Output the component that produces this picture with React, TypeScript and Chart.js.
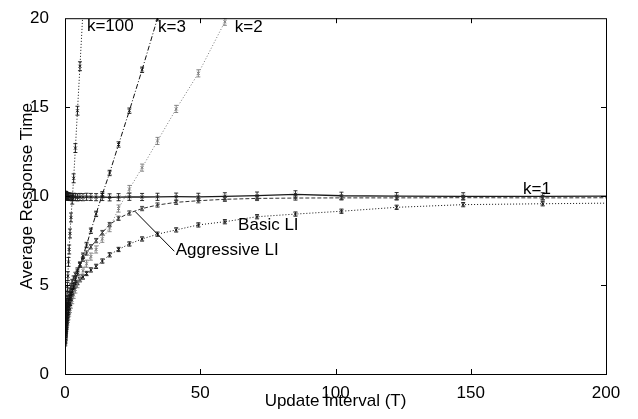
import React, { useEffect, useRef } from "react";
import { Chart, registerables } from "chart.js";

Chart.register(...registerables);

// Update interval T (x values of the measured points)
const intervals = [
  0.05, 0.1, 0.15, 0.2, 0.25, 0.3, 0.36, 0.43, 0.52, 0.62, 0.74, 0.89, 1.07, 1.29,
  1.54, 1.85, 2.22, 2.67, 3.2, 3.84, 4.61, 5.53, 6.64, 7.97, 9.56, 11.5, 13.8,
  16.5, 19.8, 23.8, 28.5, 34.2, 41.1, 49.3, 59.1, 71.0, 85.2, 102.2, 122.6,
  147.2, 176.6, 211.9,
];

// Average response time per series
const k1Times = [
  10.05, 10.08, 10.05, 10.02, 10.06, 10.03, 10.0, 10.04, 10.02, 9.98, 10.01, 9.97,
  9.99, 9.96, 9.98, 9.95, 9.97, 9.94, 9.96, 9.95, 9.93, 9.95, 9.94, 9.96, 9.95,
  9.94, 9.95, 9.93, 9.94, 9.96, 9.95, 9.96, 9.97, 9.96, 9.99, 10.03, 10.1, 10.02,
  10.0, 9.99, 9.99, 10.0,
];
const aggressiveTimes = [
  1.8, 2.0, 2.2, 2.35, 2.5, 2.65, 2.8, 3.0, 3.2, 3.4, 3.6, 3.8, 4.0, 4.2, 4.45,
  4.7, 4.95, 5.2, 5.4, 5.6, 5.85, 6.15, 6.45, 6.8, 7.15, 7.5, 7.95, 8.4, 8.75,
  9.05, 9.3, 9.5, 9.65, 9.74, 9.82, 9.87, 9.89, 9.9, 9.9, 9.91, 9.9, 9.91,
];
const basicTimes = [
  1.7, 1.85, 2.0, 2.15, 2.3, 2.4, 2.55, 2.7, 2.9, 3.1, 3.3, 3.5, 3.7, 3.9, 4.1,
  4.3, 4.5, 4.7, 4.85, 5.0, 5.15, 5.3, 5.45, 5.65, 5.85, 6.05, 6.35, 6.7, 7.0,
  7.31, 7.59, 7.86, 8.1, 8.38, 8.56, 8.84, 8.99, 9.15, 9.37, 9.52, 9.57, 9.62,
];
const k2Times = [
  2.0, 2.1, 2.2, 2.25, 2.3, 2.35, 2.4, 2.5, 2.6, 2.7, 2.8, 2.95, 3.1, 3.25, 3.45,
  3.65, 3.9, 4.15, 4.45, 4.75, 5.05, 5.4, 5.8, 6.2, 6.6, 7.0, 7.6, 8.2, 9.3,
  10.4, 11.6, 13.1, 14.9, 16.9, 19.8, 22.8, null, null, null, null, null, null,
];
const k3Times = [
  2.0, 2.1, 2.2, 2.3, 2.4, 2.45, 2.55, 2.65, 2.75, 2.85, 3.0, 3.15, 3.3, 3.5, 3.75,
  4.0, 4.3, 4.6, 4.95, 5.3, 5.7, 6.15, 6.65, 7.25, 8.05, 9.0, 10.1, 11.3, 12.9,
  14.8, 17.1, 20.0, 23.4, null, null, null, null, null, null, null, null, null,
];
const k100Times = [
  2.0, 2.2, 2.4, 2.6, 2.8, 3.0, 3.2, 3.4, 3.7, 4.0, 4.4, 4.9, 5.5, 6.3, 7.0, 7.9,
  8.8, 9.8, 11.0, 12.7, 14.8, 17.3, 20.4, null, null, null, null, null, null, null,
  null, null, null, null, null, null, null, null, null, null, null, null,
];

// Half-height of the error bars per series
const k1Err = 0.2;
const aggressiveErr = 0.12;
const basicErr = 0.12;
const k2Err = 0.2;
const k3Err = 0.15;
const k100Err = 0.25;

const xTicks = [0, 50, 100, 150, 200];
const yTicks = [0, 5, 10, 15, 20];

const FONT = "'Liberation Sans', Arial, Helvetica, sans-serif";

const toPoints = (ys: (number | null)[]) =>
  intervals.map((x, i) => ({ x, y: ys[i] }));

const errorBarPlugin = {
  id: "errorBars",
  afterDatasetsDraw(chart: any) {
    const { ctx, chartArea: a } = chart;
    const xs = chart.scales.x;
    const ys = chart.scales.y;
    ctx.save();
    ctx.beginPath();
    ctx.rect(a.left, a.top, a.right - a.left, a.bottom - a.top);
    ctx.clip();
    chart.data.datasets.forEach((ds: any) => {
      const e = ds.errHalf;
      ctx.strokeStyle = ds.borderColor;
      ctx.lineWidth = 0.9;
      ctx.setLineDash([]);
      ds.data.forEach((p: any) => {
        if (p.y == null) return;
        const px = xs.getPixelForValue(p.x);
        if (px > a.right + 3) return;
        const t = ys.getPixelForValue(p.y + e);
        const b = ys.getPixelForValue(p.y - e);
        const m = ys.getPixelForValue(p.y);
        ctx.beginPath();
        ctx.moveTo(px, t);
        ctx.lineTo(px, b);
        ctx.moveTo(px - 2, t);
        ctx.lineTo(px + 2, t);
        ctx.moveTo(px - 2, b);
        ctx.lineTo(px + 2, b);
        ctx.moveTo(px - 1.5, m - 1.5);
        ctx.lineTo(px + 1.5, m + 1.5);
        ctx.moveTo(px - 1.5, m + 1.5);
        ctx.lineTo(px + 1.5, m - 1.5);
        ctx.stroke();
      });
    });
    ctx.restore();
  },
};

const framePlugin = {
  id: "frame",
  afterDraw(chart: any) {
    const { ctx, chartArea: a } = chart;
    const xs = chart.scales.x;
    const ys = chart.scales.y;
    const tl = 5;
    ctx.save();
    ctx.strokeStyle = "#000";
    ctx.lineWidth = 1;
    ctx.setLineDash([]);
    ctx.strokeRect(a.left + 0.5, a.top + 0.5, a.right - a.left, a.bottom - a.top);
    ctx.beginPath();
    xs.ticks.forEach((t: any) => {
      const px = Math.round(xs.getPixelForValue(t.value)) + 0.5;
      if (px <= a.left + 1 || px >= a.right - 1) return;
      ctx.moveTo(px, a.bottom);
      ctx.lineTo(px, a.bottom - tl);
      ctx.moveTo(px, a.top);
      ctx.lineTo(px, a.top + tl);
    });
    ys.ticks.forEach((t: any) => {
      const py = Math.round(ys.getPixelForValue(t.value)) + 0.5;
      if (py <= a.top + 1 || py >= a.bottom - 1) return;
      ctx.moveTo(a.left, py);
      ctx.lineTo(a.left + tl, py);
      ctx.moveTo(a.right, py);
      ctx.lineTo(a.right - tl, py);
    });
    ctx.stroke();
    ctx.restore();
  },
};

// Text annotations (data coordinates)
const labelTexts = ["k=100", "k=3", "k=2", "k=1", "Basic LI", "Aggressive LI"];
const labelX = [8.1, 34.4, 62.8, 169.3, 64.0, 40.9];
const labelY = [19.55, 19.5, 19.5, 10.4, 8.34, 6.96];
const pointerFrom = { x: 25.9, y: 9.14 };
const pointerTo = { x: 40.4, y: 6.9 };

const annotationPlugin = {
  id: "annotations",
  afterDraw(chart: any) {
    const { ctx } = chart;
    const xs = chart.scales.x;
    const ys = chart.scales.y;
    ctx.save();
    ctx.fillStyle = "#000";
    ctx.font = `17px ${FONT}`;
    ctx.textAlign = "left";
    ctx.textBaseline = "middle";
    labelTexts.forEach((t, i) => {
      ctx.fillText(t, xs.getPixelForValue(labelX[i]), ys.getPixelForValue(labelY[i]));
    });
    ctx.strokeStyle = "#000";
    ctx.lineWidth = 1;
    ctx.beginPath();
    ctx.moveTo(xs.getPixelForValue(pointerFrom.x), ys.getPixelForValue(pointerFrom.y));
    ctx.lineTo(xs.getPixelForValue(pointerTo.x), ys.getPixelForValue(pointerTo.y));
    ctx.stroke();
    ctx.restore();
  },
};

export default function App() {
  const ref = useRef<HTMLCanvasElement | null>(null);

  useEffect(() => {
    if (!ref.current) return;
    const mk = (
      label: string,
      ys: (number | null)[],
      color: string,
      dash: number[],
      width: number,
      err: number
    ) => ({
      label,
      data: toPoints(ys),
      borderColor: color,
      backgroundColor: color,
      borderDash: dash,
      borderWidth: width,
      pointRadius: 0,
      tension: 0,
      fill: false,
      spanGaps: false,
      errHalf: err,
    });

    const chart = new Chart(ref.current, {
      type: "line",
      data: {
        datasets: [
          mk("k=1", k1Times, "#1a1a1a", [], 1.3, k1Err),
          mk("Aggressive LI", aggressiveTimes, "#333333", [4, 2], 1, aggressiveErr),
          mk("Basic LI", basicTimes, "#111111", [1, 2], 1, basicErr),
          mk("k=2", k2Times, "#7a7a7a", [1, 2], 1, k2Err),
          mk("k=3", k3Times, "#111111", [5, 2, 1, 2], 1, k3Err),
          mk("k=100", k100Times, "#111111", [1, 2], 1, k100Err),
        ] as any,
      },
      options: {
        animation: false,
        responsive: false,
        devicePixelRatio: 1,
        events: [],
        layout: { padding: { left: 0, top: 12, right: 32, bottom: 0 } },
        plugins: {
          legend: { display: false },
          tooltip: { enabled: false },
        },
        scales: {
          x: {
            type: "linear",
            min: 0,
            max: 200,
            afterFit: (s: any) => {
              s.height = 45;
            },
            afterBuildTicks: (s: any) => {
              s.ticks = xTicks.map((v) => ({ value: v }));
            },
            grid: { display: false },
            border: { display: false },
            ticks: {
              color: "#000",
              padding: 1,
              maxRotation: 0,
              font: { family: FONT, size: 17 },
            },
            title: {
              display: true,
              text: "Update Interval (T)",
              color: "#000",
              padding: { top: 0, bottom: 7 },
              font: { family: FONT, size: 17 },
            },
          },
          y: {
            type: "linear",
            min: 0,
            max: 20,
            afterFit: (s: any) => {
              s.width = 65;
            },
            afterBuildTicks: (s: any) => {
              s.ticks = yTicks.map((v) => ({ value: v }));
            },
            grid: { display: false },
            border: { display: false },
            ticks: {
              color: "#000",
              padding: 8,
              font: { family: FONT, size: 17 },
            },
            title: {
              display: true,
              text: "Average Response Time",
              color: "#000",
              padding: { top: 17, bottom: 0 },
              font: { family: FONT, size: 17 },
            },
          },
        },
      } as any,
      plugins: [errorBarPlugin, framePlugin, annotationPlugin],
    });
    return () => chart.destroy();
  }, []);

  return (
    <div
      style={{
        position: "fixed",
        left: 0,
        top: 0,
        width: 638,
        height: 419,
        background: "#fff",
      }}
    >
      <canvas ref={ref} width={638} height={419} />
    </div>
  );
}
